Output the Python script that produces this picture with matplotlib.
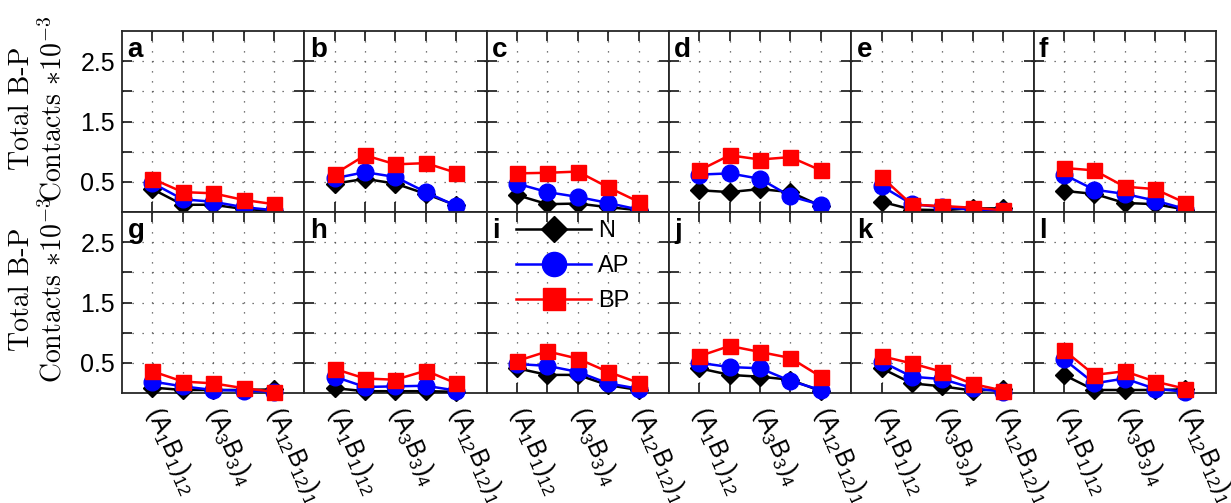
import matplotlib
matplotlib.use('Agg')
import matplotlib.pyplot as plt

plt.rcParams['font.family'] = ['Liberation Sans', 'DejaVu Sans']
plt.rcParams['mathtext.fontset'] = 'custom'
plt.rcParams['mathtext.rm'] = 'Liberation Sans'
plt.rcParams['mathtext.it'] = 'Liberation Sans:italic'
plt.rcParams['mathtext.bf'] = 'Liberation Sans:bold'

# ---------------- data ----------------
positions = [1, 2, 3, 4, 5]
panel_letters = ['a', 'b', 'c', 'd', 'e', 'f', 'g', 'h', 'i', 'j', 'k', 'l']
x_tick_labels = [r'$\mathrm{(A_1B_1)_{12}}$', '', r'$\mathrm{(A_3B_3)_4}$', '',
                 r'$\mathrm{(A_{12}B_{12})_1}$']
y_ticks = [0.5, 1.0, 1.5, 2.0, 2.5]
y_tick_labels = ['0.5', '', '1.5', '', '2.5']
series_names = ['N', 'AP', 'BP']

N_vals = [
    [0.38, 0.12, 0.12, 0.05, 0.02],
    [0.47, 0.55, 0.47, 0.30, 0.11],
    [0.28, 0.13, 0.14, 0.08, 0.03],
    [0.36, 0.33, 0.38, 0.33, 0.10],
    [0.17, 0.04, 0.03, 0.06, 0.06],
    [0.35, 0.30, 0.15, 0.13, 0.04],
    [0.09, 0.05, 0.05, 0.05, 0.06],
    [0.08, 0.03, 0.03, 0.03, 0.02],
    [0.41, 0.30, 0.30, 0.13, 0.05],
    [0.41, 0.30, 0.27, 0.22, 0.03],
    [0.41, 0.16, 0.11, 0.04, 0.06],
    [0.30, 0.05, 0.05, 0.05, 0.06],
]
AP_vals = [
    [0.48, 0.21, 0.17, 0.08, 0.03],
    [0.56, 0.66, 0.58, 0.33, 0.10],
    [0.47, 0.33, 0.25, 0.15, 0.04],
    [0.62, 0.64, 0.55, 0.26, 0.12],
    [0.43, 0.13, 0.08, 0.04, 0.02],
    [0.62, 0.37, 0.30, 0.19, 0.05],
    [0.19, 0.11, 0.05, 0.04, 0.02],
    [0.27, 0.10, 0.11, 0.12, 0.04],
    [0.48, 0.45, 0.35, 0.16, 0.07],
    [0.50, 0.43, 0.41, 0.20, 0.05],
    [0.52, 0.27, 0.23, 0.08, 0.02],
    [0.56, 0.16, 0.24, 0.07, 0.02],
]
BP_vals = [
    [0.55, 0.33, 0.31, 0.20, 0.13],
    [0.63, 0.94, 0.79, 0.81, 0.65],
    [0.64, 0.65, 0.67, 0.41, 0.17],
    [0.69, 0.94, 0.87, 0.91, 0.69],
    [0.58, 0.12, 0.10, 0.07, 0.03],
    [0.73, 0.69, 0.42, 0.38, 0.15],
    [0.36, 0.19, 0.16, 0.08, 0.02],
    [0.40, 0.24, 0.22, 0.37, 0.16],
    [0.53, 0.69, 0.57, 0.35, 0.17],
    [0.61, 0.78, 0.68, 0.58, 0.27],
    [0.61, 0.49, 0.35, 0.15, 0.04],
    [0.71, 0.30, 0.36, 0.19, 0.07],
]

# ---------------- figure ----------------
FW, FH = 1231, 503
fig = plt.figure(figsize=(FW / 100, FH / 100), dpi=100)

left_px, panel_w_px, panel_h_px = 122, 182.3, 181
row_bottom_px = [212, 393]

styles = [
    dict(color='black', marker='D', ms=8.8),
    dict(color=(0, 0, 1), marker='o', ms=12),
    dict(color=(1, 0, 0), marker='s', ms=10.8),
]

axes = []
for r in range(2):
    for c in range(6):
        idx = r * 6 + c
        ax = fig.add_axes([(left_px + c * panel_w_px) / FW,
                           1 - row_bottom_px[r] / FH,
                           panel_w_px / FW, panel_h_px / FH])
        axes.append(ax)
        for vals, name, st in zip([N_vals, AP_vals, BP_vals], series_names, styles):
            ax.plot(positions, vals[idx], linestyle='-', lw=1.8, clip_on=False,
                    zorder=3, label=name, mec=st['color'], **st)
        ax.set_xlim(0, 6)
        ax.set_ylim(0, 3)
        ax.set_xticks(positions)
        ax.set_yticks(y_ticks)
        if c == 0:
            ax.set_yticklabels(y_tick_labels)
        else:
            ax.set_yticklabels([])
        if r == 1:
            ax.set_xticklabels(x_tick_labels, rotation=-66, rotation_mode='anchor',
                               ha='left', va='center')
        else:
            ax.set_xticklabels([])
        ax.tick_params(direction='in', length=7.2, width=1.1, top=True, right=True,
                       labelsize=18, colors='black')
        ax.tick_params(axis='y', pad=5)
        ax.tick_params(axis='x', pad=11)
        ax.grid(True, linestyle=(0, (1, 7)), color='0.3', linewidth=0.9)
        for sp in ax.spines.values():
            sp.set_linewidth(1.3)
            sp.set_color('0.15')
        ax.text(0.03, 0.965, panel_letters[idx], transform=ax.transAxes,
                fontsize=20, fontweight='bold', ha='left', va='top', zorder=6)

# legend in panel i
leg = axes[8].legend(loc='upper left', bbox_to_anchor=(0.16, 0.955), frameon=False,
                     fontsize=17, markerscale=1.45, handlelength=3.2,
                     handletextpad=0.3, labelspacing=0.55, borderaxespad=0,
                     borderpad=0)
leg.set_zorder(10)

# row labels
for r in range(2):
    yc = 1 - (row_bottom_px[r] - panel_h_px / 2 - 13) / FH
    fig.text(38 / FW, yc, 'Total B-P\nContacts $*10^{-3}$', rotation=90,
             ha='center', va='center', multialignment='center', fontsize=20,
             family=['cmr10', 'DejaVu Serif'], math_fontfamily='cm')

fig.savefig('out.png', dpi=100)
